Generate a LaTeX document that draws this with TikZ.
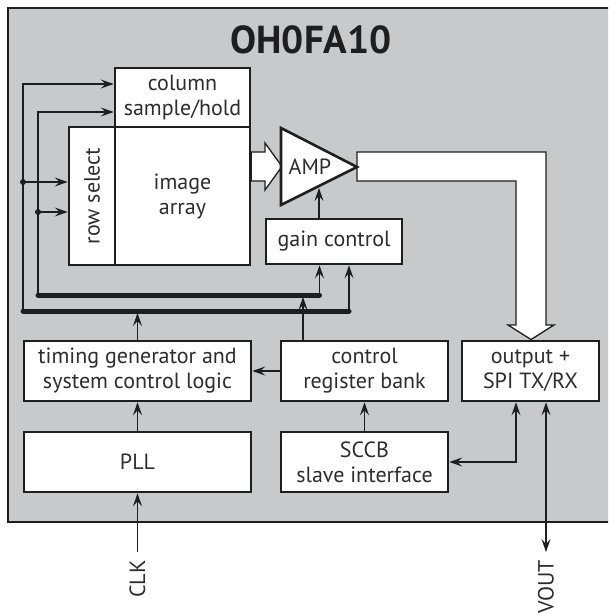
\documentclass[tikz,border=0pt]{standalone}
\usepackage{fontspec}
\setmainfont{PT Sans}
\usetikzlibrary{arrows.meta,calc}
\definecolor{chipgray}{RGB}{200,201,203}
\definecolor{ink}{RGB}{30,30,30}
\definecolor{txt}{RGB}{45,45,45}
\begin{document}
\begin{tikzpicture}[x=1pt,y=-1pt,
  box/.style={draw=ink, line width=2.6pt, fill=white, inner sep=0pt, align=center,
    font=\fontsize{22}{25}\selectfont, text=txt},
  lbl/.style={font=\fontsize{22}{25}\selectfont, text=txt, inner sep=0pt, align=center},
  arr/.style={-{Stealth[length=13pt,width=9pt,inset=5pt]}, line width=1.3pt, draw=ink},
  darr/.style={{Stealth[length=13pt,width=9pt,inset=5pt]}-{Stealth[length=13pt,width=9pt,inset=5pt]}, line width=1.3pt, draw=ink},
  bus/.style={line width=5pt, line cap=round, draw=ink},
  fat/.style={draw=ink, fill=white, line width=1.3pt, line join=miter},
  dot/.style={circle, fill=ink, inner sep=0pt, minimum size=6pt}]
\useasboundingbox (0,0) rectangle (608,615);
\begin{scope}
  \clip (0,0) rectangle (608,615);
  \filldraw[fill=chipgray, draw=ink, line width=2.6pt] (8,8) rectangle (700,522);
\end{scope}
\node[font=\bfseries\fontsize{39}{42}\selectfont, text=ink, inner sep=0pt] (title) at (311,40) {OH0FA10};

% blocks
\node[box, minimum width=135pt, minimum height=59pt] (col) at (182.5,97.5) {column\\sample/hold};
\node[box, minimum width=46pt, minimum height=138pt] (rowsel) at (92,196) {};
\node[lbl, rotate=90] (rowtxt) at (rowsel.center) {row select};
\node[box, minimum width=135pt, minimum height=138pt] (img) at (182.5,196) {image\\array};
\node[box, minimum width=136pt, minimum height=45pt] (gain) at (334,241.5) {gain control};
\node[box, minimum width=227pt, minimum height=60pt] (timing) at (137.5,371) {timing generator and\\system control logic};
\node[box, minimum width=167pt, minimum height=60pt] (ctrl) at (364.5,371) {control\\register bank};
\node[box, minimum width=137pt, minimum height=60pt] (out) at (530.5,371) {output +\\SPI TX/RX};
\node[box, minimum width=227pt, minimum height=60pt] (pll) at (137.5,462) {PLL};
\node[box, minimum width=167pt, minimum height=60pt] (sccb) at (364.5,462) {SCCB\\slave interface};

% fat arrows
\draw[fat] (img.east |- 0,152) -- (265,152) -- (265,143) -- (282,166.5) -- (265,190) -- (265,181) -- (img.east |- 0,181) -- cycle;
\draw[fat] (357,152) -- (546,152) -- (546,325) -- (554,325) -- (531,339.5) -- (508,325) -- (516,325) -- (516,181) -- (357,181) -- cycle;

% amplifier
\draw[draw=ink, fill=white, line width=2.6pt, line join=miter] (281,128) -- (357,167) -- (281,205) -- cycle;
\node[lbl] (amp) at (310,167) {AMP};
\coordinate (ampB) at (319,188);

% buses
\coordinate (b2L) at (23,311);
\coordinate (b2R) at (349,311);
\coordinate (b1L) at (38,295);
\coordinate (b1R) at (319.5,295);
\draw[bus] (b2L) -- (b2R);
\draw[bus] (b1L) -- (b1R);

% control lines to column and row select
\coordinate (rowA) at ([yshift=14pt]rowsel.west);
\coordinate (rowB) at ([yshift=-16pt]rowsel.west);
\draw[arr] (b2L) |- ([yshift=13.5pt]col.west);
\draw[arr] (b1L) |- ([yshift=-14.5pt]col.west);
\draw[arr] (b2L |- rowA) -- (rowA);
\draw[arr] (b1L |- rowB) -- (rowB);
\node[dot] (d1) at (b2L |- rowA) {};
\node[dot] (d2) at (b1L |- rowB) {};

% bus feeds
\draw[arr, shorten >=2pt] (timing.north) -- (timing.north |- b2L);
\draw[arr, shorten >=2pt] ([xshift=-61.5pt]ctrl.north) -- ([xshift=-61.5pt]ctrl.north |- b1L);
\draw[arr] (b1R) -- (b1R |- gain.south);
\draw[arr] (b2R) -- (b2R |- gain.south);
\draw[arr] (ampB |- gain.north) -- (ampB);

% lower connections
\draw[arr] (ctrl.west) -- (timing.east);
\draw[arr] (pll.north) -- (timing.south);
\draw[arr] (sccb.north) -- (ctrl.south);
\draw[darr] (sccb.east) -| ([xshift=-14.5pt]out.south);
\coordinate (vout) at (546,552);
\coordinate (clk) at (137.5,552);
\draw[darr] ([xshift=15.5pt]out.south) -- (vout);
\draw[arr] (clk) -- (pll.south);
\node[lbl, rotate=90, anchor=east] (clktxt) at (137.5,560) {CLK};
\node[lbl, rotate=90, anchor=east] (vouttxt) at (546,560) {VOUT};
\end{tikzpicture}
\end{document}
